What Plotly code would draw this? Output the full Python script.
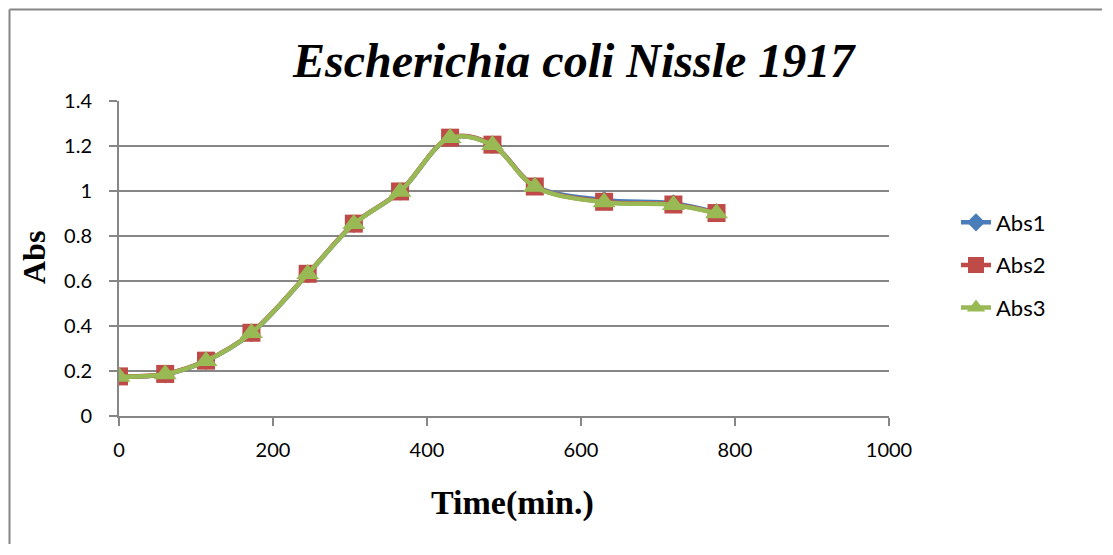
import plotly.graph_objects as go

time_min = [0, 60, 113, 172, 245, 305, 365, 430, 485, 540, 630, 720, 776]
abs1 = [0.175, 0.185, 0.245, 0.368, 0.630, 0.853, 0.997, 1.235, 1.205, 1.022, 0.960, 0.945, 0.905]
abs2 = [0.176, 0.187, 0.246, 0.370, 0.632, 0.855, 0.998, 1.237, 1.206, 1.020, 0.952, 0.940, 0.902]
abs3 = [0.175, 0.186, 0.245, 0.369, 0.631, 0.853, 0.997, 1.236, 1.204, 1.019, 0.950, 0.938, 0.901]
series_names = ["Abs1", "Abs2", "Abs3"]
x_ticks = [0, 200, 400, 600, 800, 1000]
y_ticks = [0, 0.2, 0.4, 0.6, 0.8, 1, 1.2, 1.4]
y_tick_text = ["0", "0.2", "0.4", "0.6", "0.8", "1", "1.2", "1.4"]

colors = ["#4A7EBB", "#BE4B48", "#98B954"]
symbols = ["diamond", "square", "triangle-up"]
sizes = [14, 18, 20]

# page body has an 8px margin; size the figure so the page does not scroll
OFF = 8
W, H = 1113 - 2 * OFF, 555 - 2 * OFF
PL, PR, PT, PB = 119 - OFF, 889 - OFF, 101 - OFF, 416 - OFF
pw, ph = PR - PL, PB - PT


def px(xp):
    return (xp - OFF - PL) / pw


def py(yp):
    return (PB - (yp - OFF)) / ph


fig = go.Figure()
for i, (name, ys) in enumerate(zip(series_names, [abs1, abs2, abs3])):
    fig.add_trace(go.Scatter(
        x=time_min, y=ys, name=name, mode="lines+markers",
        line=dict(color=colors[i], width=4.5, shape="spline", smoothing=1),
        marker=dict(symbol=symbols[i], size=sizes[i], color=colors[i]),
        legendgroup=name,
    ))

grid = "#868686"
fig.update_layout(
    width=W, height=H,
    margin=dict(l=PL, r=W - PR, t=PT, b=H - PB),
    paper_bgcolor="white", plot_bgcolor="white",
    showlegend=True,
    legend=dict(x=px(956), xanchor="left", y=py(265), yanchor="middle",
                font=dict(family="Lato", size=22, color="black"),
                tracegroupgap=11, bgcolor="rgba(0,0,0,0)"),
    xaxis=dict(range=[0, 1000], tickvals=x_ticks, showgrid=False,
               showline=True, linecolor=grid, linewidth=2,
               ticks="outside", ticklen=8, tickcolor=grid, tickwidth=2,
               tickfont=dict(family="Lato", size=20, color="black"),
               ticklabelstandoff=7,
               zeroline=False, fixedrange=True),
    yaxis=dict(range=[0, 1.4], tickvals=y_ticks, ticktext=y_tick_text,
               showgrid=True, gridcolor=grid, gridwidth=2,
               showline=True, linecolor=grid, linewidth=2,
               ticks="outside", ticklen=8, tickcolor=grid, tickwidth=2,
               tickfont=dict(family="Lato", size=20, color="black"),
               ticklabelstandoff=13,
               zeroline=False, fixedrange=True),
)

# Title and axis titles
fig.add_annotation(text="<b><i>Escherichia coli Nissle 1917</i></b>", xref="paper", yref="paper",
                   x=px(574), y=py(60), xanchor="center", yanchor="middle", showarrow=False,
                   font=dict(family="Liberation Serif", size=48, color="black"))
fig.add_annotation(text="<b>Time(min.)</b>", xref="paper", yref="paper",
                   x=px(513), y=py(503), xanchor="center", yanchor="middle", showarrow=False,
                   font=dict(family="Liberation Serif", size=34, color="black"))
fig.add_annotation(text="<b>Abs</b>", xref="paper", yref="paper", textangle=-90,
                   x=px(34), y=py(258), xanchor="center", yanchor="middle", showarrow=False,
                   font=dict(family="Liberation Serif", size=32, color="black"))

# Outer chart frame: only left and top edges are visible in the crop
fx0 = (1.5 - PL) / pw
fy1 = (PB - 1.5) / ph
fx1 = (W - 3 - PL) / pw
fy0 = (PB - (H - 3)) / ph
fig.add_shape(type="line", xref="paper", yref="paper", x0=fx0, x1=fx0, y0=fy0, y1=fy1,
              line=dict(color=grid, width=2), layer="below")
fig.add_shape(type="line", xref="paper", yref="paper", x0=fx0, x1=fx1, y0=fy1, y1=fy1,
              line=dict(color=grid, width=2), layer="below")

fig.write_html("out.html")
